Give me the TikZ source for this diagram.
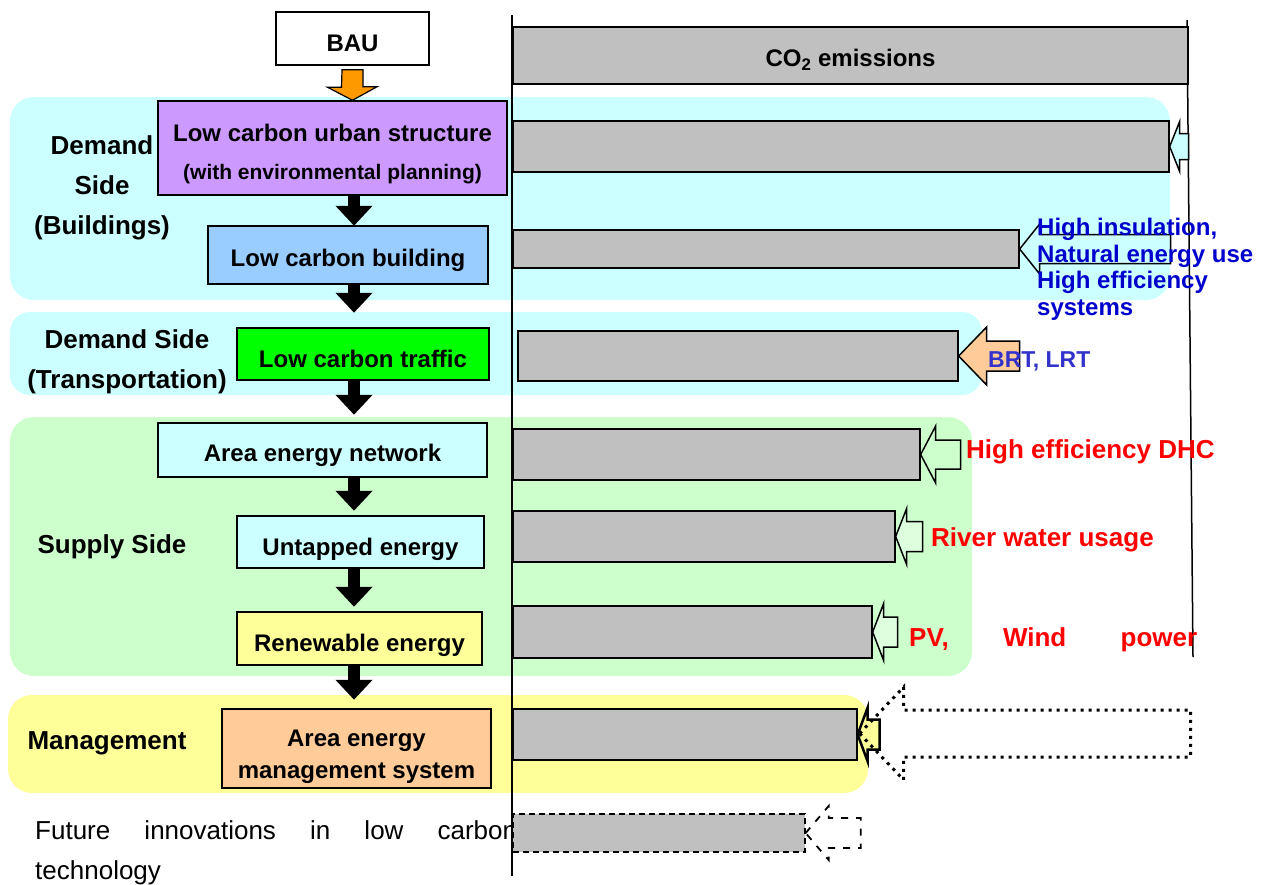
\documentclass[tikz,border=0pt]{standalone}
\usepackage{fontspec}
\setmainfont{Liberation Sans}
\usetikzlibrary{arrows.meta,calc}
\definecolor{cyreg}{HTML}{CCFFFF}
\definecolor{grreg}{HTML}{CCFFCC}
\definecolor{yereg}{HTML}{FFFF99}
\definecolor{purp}{HTML}{CC99FF}
\definecolor{bluebox}{HTML}{99CCFF}
\definecolor{greenbox}{HTML}{00FF00}
\definecolor{peach}{HTML}{FFCC99}
\definecolor{barg}{HTML}{C0C0C0}
\definecolor{orng}{HTML}{FF9900}
\definecolor{dblue}{HTML}{0000CC}
\definecolor{mblue}{HTML}{3333CC}
\definecolor{lgreen}{HTML}{DDFFDD}
\newcommand{\blkArrowL}[6]{% style, tip, head length, head half, shaft half, total length
  \draw[#1] (#2) -- ++(#3,-#4) -- ++(0,#4-#5) -- ++(#6-#3,0) -- ++(0,2*#5) -- ++(#3-#6,0) -- ++(0,#4-#5) -- cycle;}
\newcommand{\bline}[2]{\raisebox{#1}[0pt][0pt]{#2}}
\tikzset{
  region/.style={rounded corners=24pt, draw=none},
  box/.style={draw, line width=1.5pt, inner sep=0pt, align=center, font=\bfseries\fontsize{24}{30}\selectfont},
  bar/.style={draw, fill=barg, line width=1.3pt, inner sep=0pt},
  lab/.style={align=center, font=\bfseries\fontsize{26}{40}\selectfont},
  downarr/.style={line width=12pt, -{Triangle[width=36pt,length=20pt]}},
  outarr/.style={line width=1.5pt, line join=miter},
  rtext/.style={anchor=west, inner sep=0pt, text=red, font=\bfseries\fontsize{26}{30}\selectfont},
}
\begin{document}
\begin{tikzpicture}[x=1pt,y=-1pt]
\useasboundingbox (0,0) rectangle (1269,884);
% regions
\fill[region, fill=cyreg] (10,97) rectangle (1170,300);
\fill[region, rounded corners=20pt, fill=cyreg] (10,312) rectangle (982,395);
\fill[region, fill=grreg] (10,417) rectangle (972,676);
\fill[region, fill=yereg] (8,695) rectangle (868,793);
% side labels
\node[lab] (lbuild) at (102,188) {Demand\\Side\\(Buildings)};
\node[lab] (ltrans) at (127,362) {Demand Side\\(Transportation)};
\node[lab] (lsupply) at (112,547) {Supply Side};
\node[lab] (lmanage) at (107,743) {Management};
% boxes
\node[box, fill=white, minimum width=153pt, minimum height=53pt] (bau) at (352.5,38.5) {\bline{-13pt}{BAU}};
\node[box, fill=purp, minimum width=349pt, minimum height=94pt] (urban) at (332.5,148) {\bline{6.5pt}{\parbox[t]{345pt}{\centering\baselineskip=38pt Low carbon urban structure\\{\fontsize{21}{38}\selectfont (with environmental planning)}}}};
\node[box, fill=bluebox, minimum width=280pt, minimum height=58pt] (bldg) at (348,255) {\bline{-11.5pt}{Low carbon building}};
\node[box, fill=greenbox, minimum width=252pt, minimum height=52pt] (traffic) at (363,354) {\bline{-13.5pt}{Low carbon traffic}};
\node[box, fill=cyreg, minimum width=329pt, minimum height=54pt] (aen) at (322.5,450) {\bline{-11.5pt}{Area energy network}};
\node[box, fill=cyreg, minimum width=247pt, minimum height=52pt] (untap) at (360.5,542) {\bline{-13.5pt}{Untapped energy}};
\node[box, fill=yereg, minimum width=245pt, minimum height=53pt] (renew) at (359.5,638.5) {\bline{-13pt}{Renewable energy}};
\node[box, fill=peach, minimum width=269pt, minimum height=79pt] (aems) at (356.5,748.5) {\bline{2pt}{\parbox[t]{260pt}{\centering\baselineskip=32pt Area energy\\management system}}};
% arrows down
\coordinate (ax) at (354,0);
\fill[orng, draw=black, line width=1.2pt] ($(bau.south)+(-10.5,4)$) -- ++(21,0) -- ++(0,17) -- ++(14,0) -- (bau.south |- urban.north) -- ++(-25,-13) -- ++(14,0) -- cycle;
\draw[downarr] (urban.south -| ax) -- ++(0,30);
\draw[downarr] (bldg.south -| ax) -- ++(0,28);
\draw[downarr] (traffic.south -| ax) -- ++(0,34);
\draw[downarr] (aen.south -| ax) -- ++(0,33);
\draw[downarr] (untap.south -| ax) -- ++(0,38);
\draw[downarr] (renew.south -| ax) -- ++(0,34);
% future text
\node[anchor=west, inner sep=0pt, align=left, font=\fontsize{26}{40}\selectfont] (future) at (35,853) {\hbox to 482pt{Future\hfill innovations\hfill in\hfill low\hfill carbon}\\technology};
% axes lines
\draw[line width=1.5pt] (512,15) coordinate (axl1) -- (512,876) coordinate (axl2);
\draw[line width=1.5pt] (1187,20) coordinate (axr1) -- (1193,657) coordinate (axr2);
% bars
\node[bar, minimum width=675pt, minimum height=57pt, font=\bfseries\fontsize{24}{28}\selectfont] (co2) at (850.5,55.5) {\bline{-11pt}{CO\textsubscript{2} emissions}};
\node[bar, minimum width=656pt, minimum height=51pt] (b1) at (841,146.5) {};
\node[bar, minimum width=506pt, minimum height=38pt] (b2) at (766,249) {};
\node[bar, minimum width=440pt, minimum height=50pt] (b3) at (738,356) {};
\node[bar, minimum width=407pt, minimum height=51pt] (b4) at (716.5,454.5) {};
\node[bar, minimum width=382pt, minimum height=51pt] (b5) at (704,536.5) {};
\node[bar, minimum width=359pt, minimum height=52pt] (b6) at (692.5,632) {};
\node[bar, minimum width=344pt, minimum height=51pt] (b7) at (685,734.5) {};
\node[bar, dashed, dash pattern=on 6pt off 4pt, minimum width=292pt, minimum height=38pt] (b8) at (659,833) {};
% side arrows
\blkArrowL{outarr, fill=cyreg}{b1.east}{10}{25}{13}{19}
\blkArrowL{outarr}{b2.east}{20}{25}{14.5}{151}
\blkArrowL{outarr, fill=peach}{b3.east}{28}{29}{15}{61}
\blkArrowL{outarr}{b4.east}{15}{28.5}{14.5}{40}
\blkArrowL{outarr, fill=lgreen}{b5.east}{11}{28}{15}{27}
\blkArrowL{outarr, fill=lgreen}{b6.east}{11}{28.5}{15}{25}
\blkArrowL{line width=2.5pt, line join=miter, fill=yereg}{b7.east}{10}{27}{15}{22}
\coordinate (dt) at ($(b7.east)+(2,-1)$);
\blkArrowL{line width=3pt, dash pattern=on 3pt off 5pt}{dt}{44}{46.5}{23.5}{331}
\blkArrowL{line width=1.8pt, dash pattern=on 7pt off 8pt}{b8.east}{23}{27}{15}{55}
% right texts
\node[anchor=west, inner sep=0pt, align=left, text=dblue, font=\bfseries\fontsize{24}{26.5}\selectfont] (btxt) at (1037,269.5) {High insulation,\\Natural energy use\\High efficiency\\systems};
\node[anchor=west, inner sep=0pt, text=mblue, font=\bfseries\fontsize{23}{28}\selectfont] (brt) at (988,361) {BRT, LRT};
\node[rtext] (dhc) at (966,452) {High efficiency DHC};
\node[rtext] (river) at (931,540) {River water usage};
\node[rtext] (pv) at (909,640) {\hbox to 288pt{PV,\hfill Wind\hfill power}};
\end{tikzpicture}
\end{document}
